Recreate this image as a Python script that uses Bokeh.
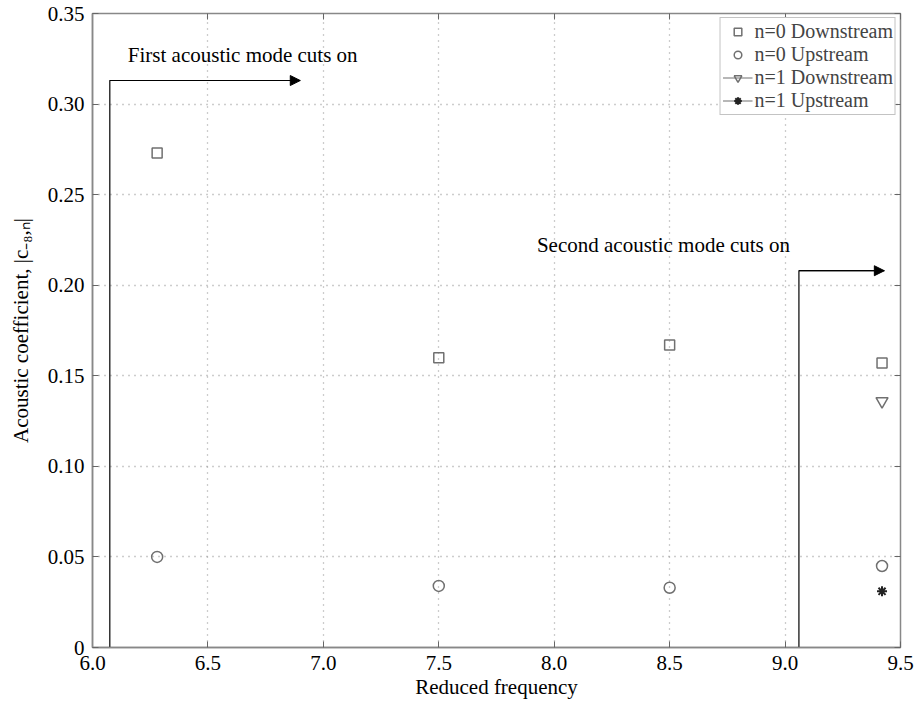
from bokeh.plotting import figure
from bokeh.models import (Range1d, FixedTicker, LinearAxis, Label, Arrow, NormalHead,
                          Legend, LegendItem, CustomJSTickFormatter)
from bokeh.embed import file_html
from bokeh.resources import INLINE

# reduced frequency of each computed case
freq = [6.28, 7.5, 8.5, 9.42]
n0_downstream = [0.273, 0.160, 0.167, 0.157]
n0_upstream = [0.050, 0.034, 0.033, 0.045]
n1_freq = [9.42]
n1_downstream = [0.136]
n1_upstream = [0.031]

# cut-on markers: vertical line rising to a horizontal arrow
cut1_x = [6.075, 6.075, 6.9]
cut1_y = [0.0, 0.313, 0.313]
cut2_x = [9.06, 9.06, 9.43]
cut2_y = [0.0, 0.208, 0.208]

x_ticks = [6.0, 6.5, 7.0, 7.5, 8.0, 8.5, 9.0, 9.5]
y_ticks = [0, 0.05, 0.10, 0.15, 0.20, 0.25, 0.30, 0.35]

FONT = "Liberation Serif, Times New Roman, serif"
GREY = "#707070"

p = figure(width=916, height=711, output_backend="svg", toolbar_location=None,
           x_range=Range1d(6.0, 9.5), y_range=Range1d(0, 0.35),
           min_border_left=92, min_border_right=16, min_border_top=13, min_border_bottom=64)
p.background_fill_color = "white"
p.border_fill_color = "white"
p.outline_line_color = "#888888"
p.outline_line_width = 1.5

p.xaxis.ticker = FixedTicker(ticks=x_ticks)
p.yaxis.ticker = FixedTicker(ticks=y_ticks)
p.xaxis.formatter = CustomJSTickFormatter(code="return tick.toFixed(1);")
p.yaxis.formatter = CustomJSTickFormatter(code="return tick == 0 ? '0' : tick.toFixed(2);")

for ax in (p.xaxis[0], p.yaxis[0]):
    ax.major_tick_in = 6
    ax.major_tick_out = 0
    ax.minor_tick_line_color = None
    ax.axis_line_color = "#888888"
    ax.axis_line_width = 1.5
    ax.major_tick_line_color = "#666666"
    ax.major_label_text_font = FONT
    ax.major_label_text_font_size = "21px"
    ax.major_label_text_color = "black"
    ax.axis_label_text_font = FONT
    ax.axis_label_text_font_size = "21px"
    ax.axis_label_text_font_style = "normal"
    ax.axis_label_text_color = "black"

p.xaxis.axis_label = "Reduced frequency"
p.yaxis.axis_label = "Acoustic coefficient, |c\u208b\u2088,\u2099|"
p.xaxis.major_label_standoff = 8
p.yaxis.major_label_standoff = 8
p.xaxis.axis_label_standoff = 2
p.yaxis.axis_label_standoff = 12

# mirrored tick marks on the top and right edges
blank = CustomJSTickFormatter(code="return '';")
top = LinearAxis(ticker=FixedTicker(ticks=x_ticks), formatter=blank,
                 major_tick_in=6, major_tick_out=0, minor_tick_line_color=None,
                 axis_line_color=None, major_tick_line_color="#666666")
right = LinearAxis(ticker=FixedTicker(ticks=y_ticks), formatter=blank,
                   major_tick_in=6, major_tick_out=0, minor_tick_line_color=None,
                   axis_line_color=None, major_tick_line_color="#666666")
p.add_layout(top, "above")
p.add_layout(right, "right")

p.grid.grid_line_color = "#9a9a9a"
p.grid.grid_line_dash = "1 5"
p.grid.grid_line_width = 1.3

# cut-on indicators
for xs, ys in ((cut1_x, cut1_y), (cut2_x, cut2_y)):
    p.line(xs, ys, line_color="black", line_width=1.2)
    p.add_layout(Arrow(end=NormalHead(size=10, fill_color="black", line_color="black"),
                       x_start=xs[-2], y_start=ys[-2], x_end=xs[-1], y_end=ys[-1],
                       line_color="black", line_width=1.2))

p.add_layout(Label(x=cut1_x[0], y=cut1_y[1], x_offset=18, y_offset=14,
                   text="First acoustic mode cuts on", text_font=FONT,
                   text_font_size="21px", text_color="black"))
p.add_layout(Label(x=cut2_x[0], y=cut2_y[1], x_offset=-262, y_offset=14,
                   text="Second acoustic mode cuts on", text_font=FONT,
                   text_font_size="21px", text_color="black"))

# data series
r_sq = p.scatter(freq, n0_downstream, marker="square", size=10, fill_color=None,
                 line_color=GREY, line_width=1.5)
r_ci = p.scatter(freq, n0_upstream, marker="circle", size=11, fill_color=None,
                 line_color=GREY, line_width=1.5)
l_tr = p.line(n1_freq, n1_downstream, line_color=GREY, line_width=1.2)
r_tr = p.scatter(n1_freq, n1_downstream, marker="inverted_triangle", size=12,
                 fill_color=None, line_color=GREY, line_width=1.5)
l_st = p.line(n1_freq, n1_upstream, line_color=GREY, line_width=1.2)
r_st = p.scatter(n1_freq, n1_upstream, marker="asterisk", size=10,
                 line_color="#222222", line_width=2)

legend = Legend(items=[
    LegendItem(label="n=0 Downstream", renderers=[r_sq]),
    LegendItem(label="n=0 Upstream", renderers=[r_ci]),
    LegendItem(label="n=1 Downstream", renderers=[l_tr, r_tr]),
    LegendItem(label="n=1 Upstream", renderers=[l_st, r_st]),
], location="top_right")
legend.label_text_font = FONT
legend.label_text_font_size = "20px"
legend.label_height = 19
legend.glyph_height = 19
legend.glyph_width = 30
legend.spacing = 0
legend.padding = 2
legend.margin = 4
legend.label_standoff = 2
legend.border_line_color = "#888888"
legend.border_line_width = 1.2
legend.background_fill_alpha = 1.0
p.add_layout(legend)

open("out.html", "w").write(file_html(p, INLINE))
